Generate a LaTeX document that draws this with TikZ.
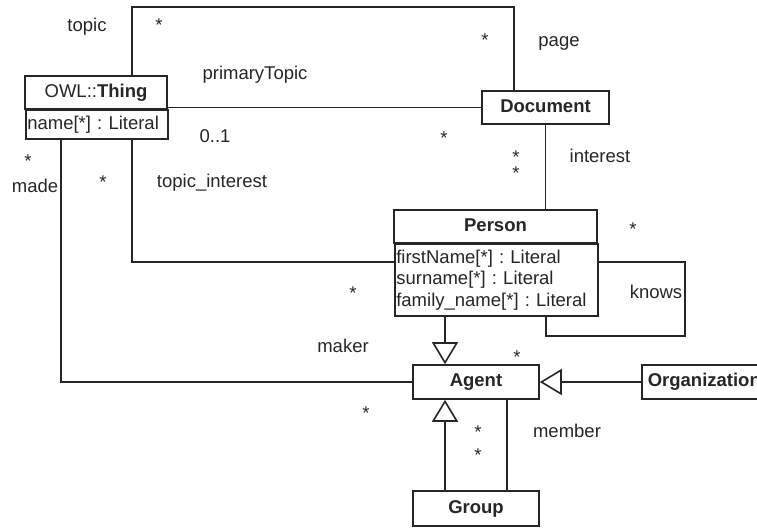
\documentclass[tikz,border=0pt]{standalone}
\usepackage{fontspec}
\setmainfont{Liberation Sans}
\usetikzlibrary{arrows.meta}
\definecolor{ink}{RGB}{38,38,38}
\frenchspacing
\begin{document}
\begin{tikzpicture}[x=1pt,y=-1pt,
  every node/.style={font=\fontsize{18.5}{21.5}\selectfont\frenchspacing, text=ink},
  line/.style={draw=ink, line width=1.6pt},
  classbox/.style={draw=ink, line width=1.6pt, fill=white, inner sep=0pt,
    text height=13.3pt, text depth=3.9pt,
    font=\fontsize{18.5}{21.5}\selectfont\bfseries},
  attrbox/.style={draw=ink, line width=1.6pt, fill=white, inner xsep=1.5pt,
    inner ysep=0pt, align=left, anchor=north west},
  lbl/.style={inner sep=0pt, text height=13.3pt, text depth=3.9pt},
  mult/.style={inner sep=0pt},
  multpair/.style={inner sep=0pt, align=center, font=\fontsize{18.5}{16}\selectfont},
  inherit/.style={line, -{Triangle[open, length=22pt, width=26pt, fill=white]}},
]
\clip (0,0) rectangle (757,528);

% classes
\node[classbox, minimum width=142pt, minimum height=33pt,
      font=\fontsize{18.5}{21.5}\selectfont] (thing) at (96,92.5) {OWL::\textbf{Thing}};
\node[attrbox, text width=139pt, minimum height=29pt] (thingattr) at (25,109) {name[*] : Literal};
\node[classbox, minimum width=127pt, minimum height=33pt] (doc) at (545.5,107.5) {Document};
\node[classbox, minimum width=203pt, minimum height=33pt] (person) at (495.5,226.5) {Person};
\node[attrbox, text width=200pt, minimum height=72pt] (personattr) at (394,243)
  {firstName[*] : Literal\\surname[*] : Literal\\family\_name[*] : Literal};
\node[classbox, minimum width=126pt, minimum height=34pt] (agent) at (476,382) {Agent};
\node[classbox, minimum width=125pt, minimum height=34pt, anchor=west] (org) at (641,382) {Organization};
\node[classbox, minimum width=126pt, minimum height=35pt] (group) at (476,508.5) {Group};

% bend points
\coordinate (tp1) at (132,7);
\coordinate (tp2) at (514,7);
\coordinate (ti) at (132,262);
\coordinate (k1) at (685,262);
\coordinate (k2) at (685,336);
\coordinate (k3) at (546,336);
\coordinate (gx) at (445,0);
\coordinate (mx) at (507,0);
\coordinate (m1) at (61,382);

% associations
\draw[line] (thing.north -| tp1) -- (tp1) -- (tp2) -- (doc.north -| tp2);
\draw[line] (doc.west) -- (doc.west -| thing.east);
\draw[line] (thingattr.south -| ti) -- (ti) -- (ti -| personattr.west);
\draw[line] (doc.south) -- (doc.south |- person.north);
\draw[line] (personattr.east |- k1) -- (k1) -- (k2) -- (k3) -- (k3 |- personattr.south);
\draw[line] (group.north -| mx) -- (agent.south -| mx);
\draw[line] (thingattr.south -| m1) -- (m1) -- (agent.west);

% generalisations
\draw[inherit] (personattr.south -| gx) -- (agent.north -| gx);
\draw[inherit] (org.west) -- (agent.east);
\draw[inherit] (group.north -| gx) -- (agent.south -| gx);

% role names
\node[lbl] (l-topic) at (87,27) {topic};
\node[lbl] (l-primary) at (255,75) {primaryTopic};
\node[lbl] (l-page) at (559,42) {page};
\node[lbl] (l-01) at (215,138) {0..1};
\node[lbl] (l-interest) at (600,158) {interest};
\node[lbl] (l-made) at (35,188) {made};
\node[lbl] (l-ti) at (212,183) {topic\_interest};
\node[lbl] (l-knows) at (656,294) {knows};
\node[lbl] (l-maker) at (343,348) {maker};
\node[lbl] (l-member) at (567,433) {member};

% multiplicities
\node[mult] (m-a) at (159,25) {*};
\node[mult] (m-b) at (485,40) {*};
\node[mult] (m-c) at (444,138) {*};
\node[multpair] (m-de) at (516,165) {*\\*};
\node[mult] (m-f) at (28,161) {*};
\node[mult] (m-g) at (103,182) {*};
\node[mult] (m-h) at (633,229) {*};
\node[mult] (m-i) at (353,293) {*};
\node[mult] (m-j) at (366,413) {*};
\node[mult] (m-k) at (517,357) {*};
\node[mult] (m-l) at (478,432) {*};
\node[mult] (m-m) at (478,455) {*};
\end{tikzpicture}
\end{document}
